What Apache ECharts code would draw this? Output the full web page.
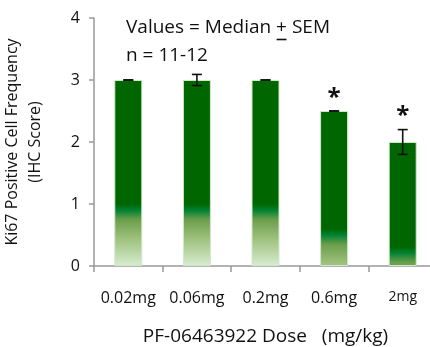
<!DOCTYPE html>
<html>
<head>
<meta charset="utf-8">
<script src="https://cdn.jsdelivr.net/npm/echarts@6/dist/echarts.min.js"></script>
<style>html,body{margin:0;padding:0;background:#fff}#c{width:430px;height:347px}</style>
</head>
<body>
<div id="c"></div>
<script>
const categories = ['0.02mg', '0.06mg', '0.2mg', '0.6mg', '2mg'];
const medians = [3, 3, 3, 2.5, 2];
const sems = [0, 0.09, 0, 0, 0.2];
const significant = [false, false, false, true, true];
const yTicks = [0, 1, 2, 3, 4];

// style: value where the bright band of each bar's gradient sits
const fadeAt = [0.9, 0.9, 0.9, 0.5, 0.21];
const FONT = '"Open Sans", sans-serif';

const ramp = [[0, [0, 130, 50]], [0.15, [106, 158, 74]], [0.45, [156, 192, 124]], [0.9, [216, 236, 208]]];
function rampColor(d) {
  for (let i = 1; i < ramp.length; i++) {
    if (d <= ramp[i][0]) {
      const a = ramp[i - 1], b = ramp[i], t = (d - a[0]) / (b[0] - a[0]);
      const c = a[1].map((x, k) => Math.round(x + (b[1][k] - x) * t));
      return 'rgb(' + c.join(',') + ')';
    }
  }
  return 'rgb(' + ramp[ramp.length - 1][1].join(',') + ')';
}
function barGradient(v, fs) {
  const stops = [{offset: 0, color: '#006600'}, {offset: Math.max(0, (v - fs - 0.1) / v), color: '#006600'}];
  stops.push({offset: (v - fs) / v, color: rampColor(0)});
  for (let i = 1; i < ramp.length; i++) {
    if (ramp[i][0] < fs) stops.push({offset: (v - fs + ramp[i][0]) / v, color: rampColor(ramp[i][0])});
  }
  stops.push({offset: 1, color: rampColor(fs)});
  return new echarts.graphic.LinearGradient(0, 0, 0, 1, stops);
}

// measure where the "+" falls so it can be underlined
const mctx = document.createElement('canvas').getContext('2d');
mctx.font = '19px ' + FONT;
const noteLeft = 126;
const plusX0 = noteLeft + mctx.measureText('Values = Median ').width;
const plusW = mctx.measureText('+').width;

const chart = echarts.init(document.getElementById('c'));
chart.setOption({
  animation: false,
  grid: {left: 94, top: 18, right: -7, bottom: 81, outerBoundsMode: 'none', containLabel: false},
  xAxis: {
    type: 'category', data: categories,
    axisLine: {lineStyle: {color: '#999', width: 1.5}},
    axisTick: {show: true, length: 6, lineStyle: {color: '#999', width: 1.5}},
    axisLabel: {
      interval: 0, margin: 24, color: '#111', fontFamily: FONT, fontSize: 16,
      formatter: (v, i) => i === 4 ? '{s|' + v + '}' : v,
      rich: {s: {fontSize: 14, fontFamily: FONT, color: '#111'}}
    },
    name: 'PF-06463922 Dose   (mg/kg)',
    nameLocation: 'middle', nameGap: 61,
    nameTextStyle: {color: '#111', fontFamily: FONT, fontSize: 19}
  },
  yAxis: {
    type: 'value', min: yTicks[0], max: yTicks[yTicks.length - 1], interval: 1,
    axisLine: {show: true, lineStyle: {color: '#999', width: 1.5}},
    axisTick: {show: true, length: 5, lineStyle: {color: '#999', width: 1.5}},
    splitLine: {show: false},
    axisLabel: {margin: 14, color: '#111', fontFamily: FONT, fontSize: 16},
    name: 'Ki67 Positive Cell Frequency\n(IHC Score)',
    nameLocation: 'middle', nameGap: 47,
    nameTextStyle: {color: '#111', fontFamily: FONT, fontSize: 16, lineHeight: 23}
  },
  series: [
    {
      type: 'bar', barWidth: 28,
      data: medians.map((v, i) => ({value: v, itemStyle: {color: barGradient(v, fadeAt[i])}})),
      itemStyle: {borderColor: '#cfe8c8', borderWidth: 1}
    },
    {
      type: 'custom', z: 5,
      data: medians.map((v, i) => [i, v, sems[i], significant[i] ? 1 : 0]),
      renderItem: (params, api) => {
        const x = api.value(0), m = api.value(1), s = api.value(2);
        const top = api.coord([x, m + s]), bot = api.coord([x, m - s]);
        const w = 5;
        const st = {stroke: '#111', lineWidth: 1.6};
        const ch = [
          {type: 'line', shape: {x1: top[0], y1: top[1], x2: bot[0], y2: bot[1]}, style: st},
          {type: 'line', shape: {x1: top[0] - w, y1: top[1], x2: top[0] + w, y2: top[1]}, style: st},
          {type: 'line', shape: {x1: bot[0] - w, y1: bot[1], x2: bot[0] + w, y2: bot[1]}, style: st}
        ];
        if (api.value(3)) {
          ch.push({type: 'text', x: top[0], y: top[1] - 1,
            style: {text: '*', fill: '#111', font: 'bold 24px ' + FONT, align: 'center', verticalAlign: 'bottom'}});
        }
        return {type: 'group', children: ch};
      }
    }
  ],
  graphic: [
    {type: 'text', left: noteLeft, top: 18, style: {text: 'Values = Median + SEM', fill: '#111', font: '19px ' + FONT}},
    {type: 'line', shape: {x1: plusX0 + 0.5, y1: 39.5, x2: plusX0 + plusW - 0.5, y2: 39.5}, style: {stroke: '#111', lineWidth: 1.6}},
    {type: 'text', left: noteLeft, top: 46, style: {text: 'n = 11-12', fill: '#111', font: '19px ' + FONT}}
  ]
});
</script>
</body>
</html>
